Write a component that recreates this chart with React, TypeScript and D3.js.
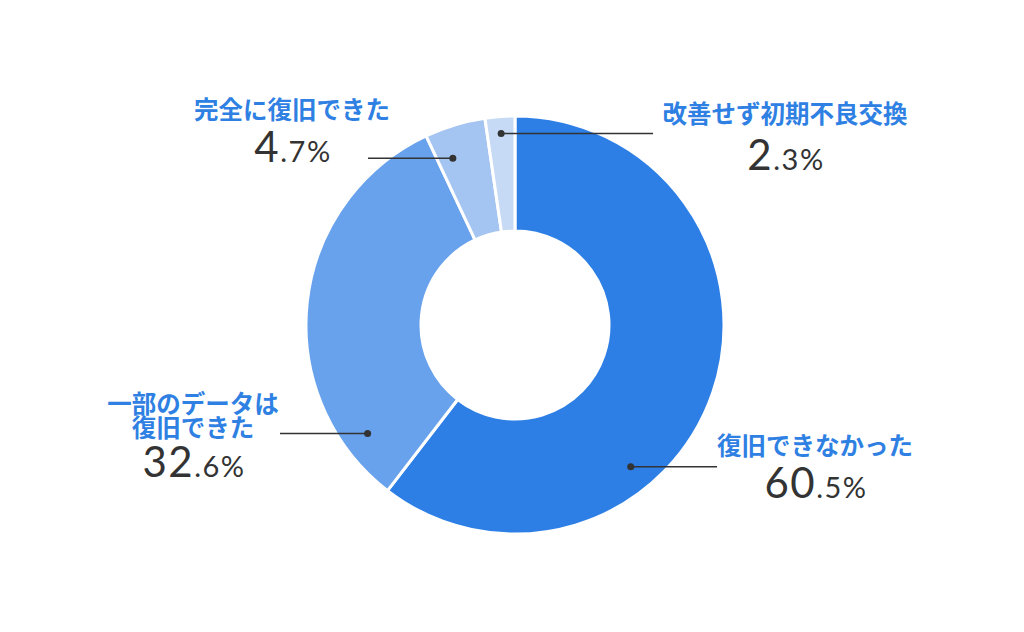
import * as d3 from 'd3';

// values, clockwise from 12 o'clock
const categories = ['復旧できなかった', '一部のデータは\n復旧できた', '完全に復旧できた', '改善せず初期不良交換'];
const shares = [60.5, 32.6, 4.7, 2.3];
const palette = ['#2d7fe6', '#69a2ec', '#a4c4f1', '#c6daf6'];

// where each callout sits (layout only)
const callouts = [
  { dotFrac: 0.647, dotR: 183, lineTo: 717, x: 815, labelY: 455, pctY: 498 },
  { dotFrac: 0.137, dotR: 183, lineTo: 280, x: 193, labelY: 413, pctY: 477 },
  { dotFrac: 0.28, dotR: 178, lineTo: 368, x: 292, labelY: 119, pctY: 162 },
  { dotFrac: 0.5, dotR: 192, lineTo: 653, x: 785, labelY: 123, pctY: 170 },
];

const W = 1024;
const H = 632;
const cx = 515;
const cy = 325;
const outerR = 209;
const innerR = 94;

const App = () => {
  const pie = d3.pie<number>().value(d => d).sort(null);
  const arcs = pie(shares);
  const arc = d3.arc<d3.PieArcDatum<number>>().innerRadius(innerR).outerRadius(outerR);

  return (
    <svg
      width={W}
      height={H}
      style={{ position: 'absolute', left: 0, top: 0, background: '#fff' }}
    >
      <g transform={`translate(${cx},${cy})`}>
        {arcs.map((a, i) => (
          <path key={i} d={arc(a) || ''} fill={palette[i]} stroke="#fff" strokeWidth={3} strokeLinejoin="round" />
        ))}
      </g>
      {arcs.map((a, i) => {
        const c = callouts[i];
        const ang = a.startAngle + c.dotFrac * (a.endAngle - a.startAngle);
        const dx = cx + c.dotR * Math.sin(ang);
        const dy = cy - c.dotR * Math.cos(ang);
        const lines = categories[i].split('\n');
        const [intPart, decPart] = shares[i].toFixed(1).split('.');
        return (
          <g key={i}>
            <line x1={dx} y1={dy} x2={c.lineTo} y2={dy} stroke="#333" strokeWidth={1.5} />
            <circle cx={dx} cy={dy} r={3.5} fill="#333" />
            <text
              x={c.x}
              textAnchor="middle"
              fill="#2f80e3"
              fontFamily="'Noto Sans CJK JP', sans-serif"
              fontWeight={700}
              fontSize={24.5}
            >
              {lines.map((t, j) => (
                <tspan key={j} x={c.x} y={c.labelY + j * 24}>{t}</tspan>
              ))}
            </text>
            <text
              x={c.x + 1}
              y={c.pctY}
              textAnchor="middle"
              fill="#333"
              fontFamily="Lato, sans-serif"
              letterSpacing={1.5}
            >
              <tspan fontSize={42}>{intPart}</tspan>
              <tspan fontSize={29}>{'.' + decPart + '%'}</tspan>
            </text>
          </g>
        );
      })}
    </svg>
  );
};

export default App;
